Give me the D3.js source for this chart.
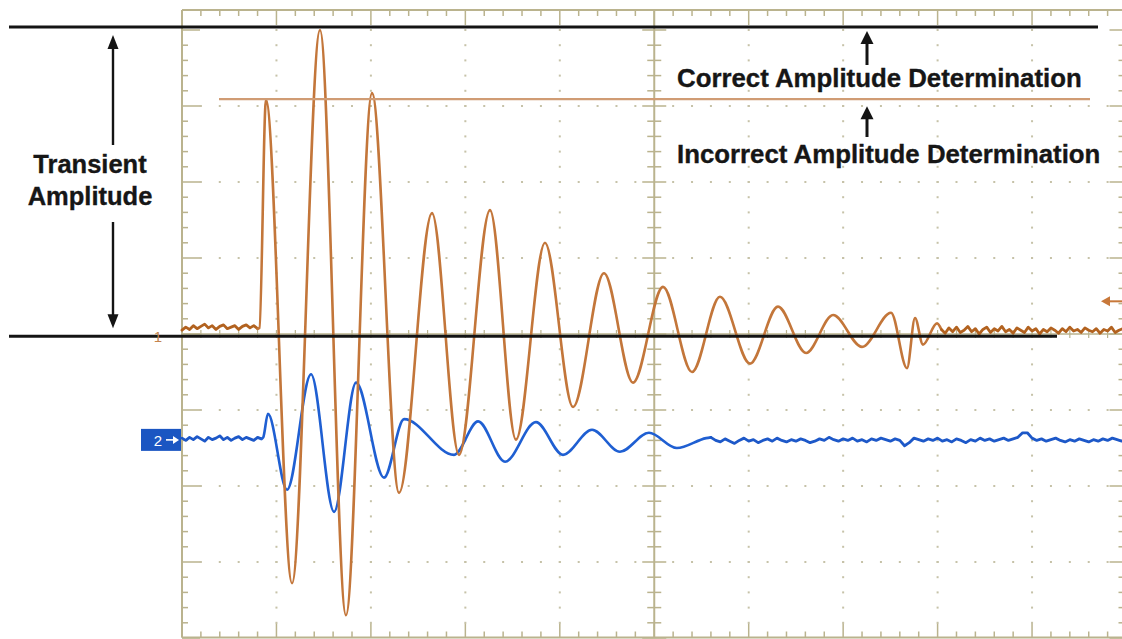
<!DOCTYPE html>
<html><head><meta charset="utf-8">
<script src="https://cdn.jsdelivr.net/npm/d3@7"></script>
<style>html,body{margin:0;padding:0;background:#fff;} svg{display:block;}</style>
</head><body><svg id="c" width="1122" height="639"></svg>
<script>
// ---- DATA (time in divisions, amplitude in divisions) ----
const ch1Lead = [[0.00,0.05],[0.04,0.09],[0.08,0.06],[0.12,0.11],[0.16,0.07],[0.20,0.10],[0.24,0.13],[0.28,0.08],[0.32,0.11],[0.36,0.06],[0.40,0.10],[0.44,0.12],[0.48,0.07],[0.52,0.09],[0.56,0.11],[0.60,0.06],[0.64,0.10],[0.68,0.12],[0.72,0.08],[0.76,0.11],[0.80,0.07]];
const ch1Burst = [[0.80,0.07],[0.82,0.08],[0.889,3.08],[1.165,-3.28],[1.461,4.00],[1.736,-3.70],[2.012,3.17],[2.298,-2.09],[2.647,1.59],[2.933,-1.59],[3.261,1.63],[3.536,-1.39],[3.843,1.20],[4.140,-0.96],[4.468,0.80],[4.775,-0.64],[5.093,0.62],[5.400,-0.50],[5.696,0.49],[6.014,-0.39],[6.310,0.36],[6.607,-0.25],[6.893,0.25],[7.200,-0.17],[7.507,0.28],[7.676,-0.45],[7.761,0.21],[7.845,-0.14],[7.994,0.14],[8.04,0.06]];
const ch1Tail = [[8.04,0.06],[8.08,0.01],[8.12,0.08],[8.16,0.03],[8.20,0.09],[8.24,0.02],[8.28,0.05],[8.32,0.10],[8.36,0.03],[8.40,0.07],[8.44,0.00],[8.48,0.06],[8.52,0.09],[8.56,0.02],[8.60,0.07],[8.64,0.04],[8.68,0.10],[8.72,0.03],[8.76,0.06],[8.80,0.01],[8.84,0.08],[8.88,0.05],[8.92,0.02],[8.96,0.09],[9.00,0.04],[9.04,0.07],[9.08,0.00],[9.12,0.06],[9.16,0.03],[9.20,0.08],[9.24,0.05],[9.28,0.01],[9.32,0.07],[9.36,0.03],[9.40,0.09],[9.44,0.04],[9.48,0.06],[9.52,0.02],[9.56,0.08],[9.60,0.05],[9.64,0.03],[9.68,0.07],[9.72,0.01],[9.76,0.06],[9.80,0.04],[9.84,0.09],[9.88,0.02],[9.92,0.05],[9.96,0.07],[10.00,0.03]];

const ch2Lead = [[0.00,-1.37],[0.04,-1.40],[0.08,-1.36],[0.12,-1.39],[0.16,-1.35],[0.20,-1.38],[0.24,-1.41],[0.28,-1.36],[0.32,-1.39],[0.36,-1.37],[0.40,-1.34],[0.44,-1.39],[0.48,-1.36],[0.52,-1.40],[0.56,-1.37],[0.60,-1.35],[0.64,-1.39],[0.68,-1.36],[0.72,-1.38],[0.76,-1.40],[0.80,-1.36],[0.84,-1.38]];
const ch2Burst = [[0.84,-1.38],[0.86,-1.36],[0.910,-1.05],[1.112,-2.05],[1.366,-0.53],[1.610,-2.34],[1.843,-0.64],[2.139,-1.89],[2.351,-1.12],[2.880,-1.59],[3.135,-1.15],[3.420,-1.68],[3.748,-1.16],[4.034,-1.59],[4.341,-1.26],[4.637,-1.55],[4.944,-1.30],[5.240,-1.50],[5.55,-1.37],[5.60,-1.36]];
const ch2Tail = [[5.60,-1.36],[5.65,-1.40],[5.70,-1.42],[5.75,-1.38],[5.80,-1.41],[5.85,-1.44],[5.90,-1.40],[5.95,-1.37],[6.00,-1.41],[6.05,-1.39],[6.10,-1.43],[6.15,-1.40],[6.20,-1.38],[6.25,-1.41],[6.30,-1.37],[6.35,-1.40],[6.40,-1.42],[6.45,-1.39],[6.50,-1.41],[6.55,-1.38],[6.60,-1.40],[6.65,-1.43],[6.70,-1.41],[6.75,-1.38],[6.80,-1.40],[6.85,-1.36],[6.90,-1.39],[6.95,-1.41],[7.00,-1.38],[7.05,-1.40],[7.10,-1.37],[7.15,-1.41],[7.20,-1.39],[7.25,-1.42],[7.30,-1.38],[7.35,-1.40],[7.40,-1.37],[7.45,-1.39],[7.50,-1.41],[7.55,-1.38],[7.60,-1.40],[7.65,-1.47],[7.70,-1.43],[7.75,-1.37],[7.80,-1.39],[7.85,-1.41],[7.90,-1.38],[7.95,-1.40],[8.00,-1.37],[8.05,-1.41],[8.10,-1.39],[8.15,-1.42],[8.20,-1.38],[8.25,-1.40],[8.30,-1.43],[8.35,-1.39],[8.40,-1.41],[8.45,-1.37],[8.50,-1.40],[8.55,-1.38],[8.60,-1.41],[8.65,-1.39],[8.70,-1.37],[8.75,-1.40],[8.80,-1.38],[8.85,-1.36],[8.90,-1.30],[8.95,-1.30],[9.00,-1.37],[9.05,-1.40],[9.10,-1.38],[9.15,-1.41],[9.20,-1.39],[9.25,-1.37],[9.30,-1.40],[9.35,-1.42],[9.40,-1.39],[9.45,-1.41],[9.50,-1.38],[9.55,-1.40],[9.60,-1.42],[9.65,-1.39],[9.70,-1.41],[9.75,-1.38],[9.80,-1.40],[9.85,-1.37],[9.90,-1.39],[9.95,-1.41],[10.00,-1.38]];

const correctLevel = 4.04;
const incorrectLevel = 3.09;
const groundLevel = -0.03;
const triggerLevel = 0.43;
const ch2Marker = -1.38;
const labelTransient = ["Transient", "Amplitude"];
const labelCorrect = "Correct Amplitude Determination";
const labelIncorrect = "Incorrect Amplitude Determination";

// ---- LAYOUT ----
const svg = d3.select("#c");
const x = d3.scaleLinear().domain([0, 10]).range([182, 1126.5]);
const y = d3.scaleLinear().domain([-4, 4]).range([638, 30]);
const frameTop = 10, frameBottom = 637.5;
const frameCol = "#bab38e", dotCol = "#c6c2a8";

const g = svg.append("g");
const minorX = d3.range(0, 50.5).map(i => i * 0.2);
const minorY = d3.range(0, 40.5).map(i => -4 + i * 0.2);
const isMajor = v => Math.abs(v - Math.round(v)) < 1e-6;

[-3,-2,-1,1,2,3].forEach(r => {
  minorX.filter(t => t > 0.1 && t < 9.9 && Math.abs(t-5) > 0.1).forEach(t => {
    g.append("rect").attr("x", x(t)-1).attr("y", y(r)-1).attr("width", 2).attr("height", 2).attr("fill", dotCol);
  });
});
[1,2,3,4,6,7,8,9].forEach(c => {
  minorY.filter(v => v > -3.9).forEach(v => {
    g.append("rect").attr("x", x(c)-1).attr("y", y(v)-1).attr("width", 2).attr("height", 2).attr("fill", dotCol);
  });
});

const line = (x1,y1,x2,y2,w,c) => g.append("line").attr("x1",x1).attr("y1",y1).attr("x2",x2).attr("y2",y2).attr("stroke",c||frameCol).attr("stroke-width",w||1.5);
line(x(0), frameTop, x(10), frameTop, 2);
line(x(0), frameTop, x(0), frameBottom, 2);
line(x(0), frameBottom, x(10), frameBottom, 2);
line(x(10), frameTop, x(10), frameBottom, 2);
line(x(5), frameTop, x(5), frameBottom, 2);
line(x(0), y(0), x(10), y(0), 1.5);

minorX.forEach(t => {
  const m = isMajor(t);
  line(x(t), frameTop, x(t), frameTop + (m ? 15 : 6), 1.5);
  line(x(t), frameBottom, x(t), frameBottom - (m ? 14 : 6), 1.5);
  line(x(t), y(0) - 4, x(t), y(0) + 4, 1.2);
});
minorY.forEach(v => {
  const m = isMajor(v);
  line(x(0), y(v), x(0) + (m ? 18 : 6), y(v), 1.5);
  line(x(10), y(v), x(10) - (m ? 17 : 8), y(v), 1.5);
  line(x(5) - (m ? 12 : 7), y(v), x(5) + (m ? 12 : 7), y(v), 1.5);
});

// ---- TRACES ----
const smooth = d3.line().x(d => x(d[0])).y(d => y(d[1])).curve(d3.curveMonotoneX);
const jag = d3.line().x(d => x(d[0])).y(d => y(d[1]));
function trace(parts, col, noiseCol) {
  const tg = svg.append("g").attr("fill", "none").attr("stroke-linejoin", "round").attr("stroke-linecap", "round");
  tg.append("path").attr("d", jag(parts[0])).attr("stroke", noiseCol).attr("stroke-width", 2.8);
  tg.append("path").attr("d", smooth(parts[1])).attr("stroke", col).attr("stroke-width", 2.6);
  tg.append("path").attr("d", jag(parts[2])).attr("stroke", noiseCol).attr("stroke-width", 2.8);
}
trace([ch2Lead, ch2Burst, ch2Tail], "#1f5fd2", "#1d58c8");
trace([ch1Lead, ch1Burst, ch1Tail], "#c3763a", "#b2621f");

// ---- ANNOTATION LINES ----
const a = svg.append("g");
a.append("line").attr("x1", 9).attr("x2", 1098).attr("y1", y(correctLevel)).attr("y2", y(correctLevel)).attr("stroke", "#141414").attr("stroke-width", 3);
a.append("line").attr("x1", 9).attr("x2", 1057).attr("y1", y(groundLevel)).attr("y2", y(groundLevel)).attr("stroke", "#141414").attr("stroke-width", 3);
a.append("line").attr("x1", 219).attr("x2", 1090).attr("y1", y(incorrectLevel)).attr("y2", y(incorrectLevel)).attr("stroke", "#d09c74").attr("stroke-width", 2.2);

function arrow(px, tipY, tailY, col, lw, hw, hh) {
  const dir = tailY > tipY ? 1 : -1;
  a.append("line").attr("x1", px).attr("x2", px).attr("y1", tipY + dir*(hh-2)).attr("y2", tailY).attr("stroke", col).attr("stroke-width", lw);
  a.append("path").attr("d", `M${px},${tipY} L${px-hw/2},${tipY+dir*hh} L${px+hw/2},${tipY+dir*hh} Z`).attr("fill", col);
}
arrow(113, y(correctLevel) + 8, 145, "#141414", 2.4, 11, 14);
arrow(113, y(groundLevel) - 8, 222, "#141414", 2.4, 11, 14);
arrow(867, y(correctLevel) + 4, 65, "#141414", 3, 13, 13);
arrow(867, y(incorrectLevel) + 7, 137, "#141414", 3, 13, 13);

// ---- TEXT ----
const font = "'Liberation Sans', Arial, sans-serif";
const txt = (sel) => sel.attr("font-family", font).attr("font-weight", "bold").attr("fill", "#161616")
  .attr("stroke", "#161616").attr("stroke-width", 0.35);
txt(a.selectAll("text.tr").data(labelTransient).enter().append("text")
  .attr("x", 90).attr("y", (d, i) => 173 + i * 32).attr("text-anchor", "middle").attr("font-size", 25.5).text(d => d));
txt(a.append("text").attr("x", 677).attr("y", 87).attr("font-size", 25.8).text(labelCorrect));
txt(a.append("text").attr("x", 677).attr("y", 163).attr("font-size", 25.8).text(labelIncorrect));

// channel markers
a.append("text").attr("x", 158).attr("y", y(0) + 8).attr("text-anchor", "middle").attr("font-family", font).attr("font-size", 15).attr("fill", "#c4844e").text("1");
const m2y = y(ch2Marker);
a.append("rect").attr("x", 141).attr("y", m2y - 10).attr("width", 40).attr("height", 22).attr("fill", "#1b56c2");
a.append("text").attr("x", 158).attr("y", m2y + 7).attr("text-anchor", "middle").attr("font-family", font).attr("font-size", 15).attr("fill", "#fff").text("2");
a.append("line").attr("x1", 166).attr("x2", 174).attr("y1", m2y + 1).attr("y2", m2y + 1).attr("stroke", "#fff").attr("stroke-width", 1.6);
a.append("path").attr("d", `M179,${m2y+1} L173,${m2y-3} L173,${m2y+5} Z`).attr("fill", "#fff");

// trigger marker
const ty = y(triggerLevel);
a.append("path").attr("d", `M1101,${ty} L1110,${ty-5} L1110,${ty+5} Z`).attr("fill", "#c8783a");
a.append("line").attr("x1", 1108).attr("x2", 1122).attr("y1", ty).attr("y2", ty).attr("stroke", "#c8783a").attr("stroke-width", 2);
</script></body></html>
